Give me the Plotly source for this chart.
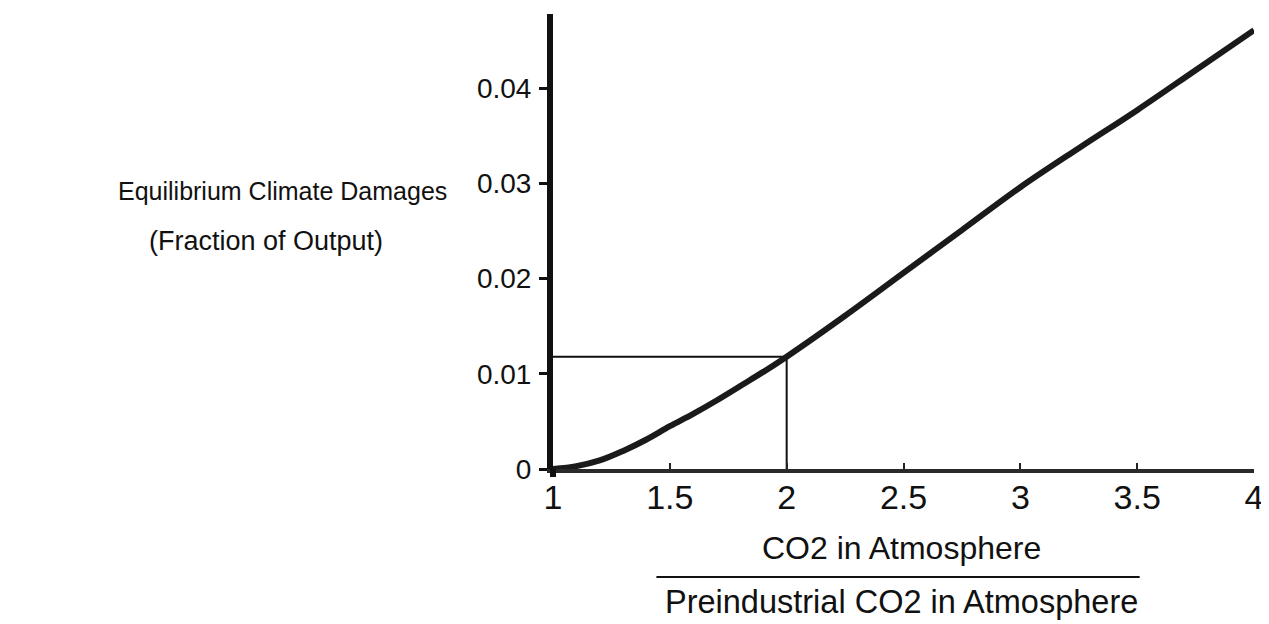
import plotly.graph_objects as go

# Data
co2_ratio = [1.0, 1.1, 1.2, 1.3, 1.4, 1.5, 1.6, 1.7, 1.8, 1.9, 2.0,
             2.25, 2.5, 2.75, 3.0, 3.25, 3.5, 3.75, 4.0]
damages = [0.0, 0.0003, 0.0009, 0.0019, 0.0031, 0.0045, 0.0058, 0.0072,
           0.0087, 0.0102, 0.0118, 0.0161, 0.0206, 0.0251, 0.0296,
           0.0337, 0.0377, 0.0419, 0.0461]

ref_x = 2.0
ref_y = 0.0118

x_ticks = [1, 1.5, 2, 2.5, 3, 3.5, 4]
x_ticktext = ["1", "1.5", "2", "2.5", "3", "3.5", "4"]
y_ticks = [0, 0.01, 0.02, 0.03, 0.04]
y_ticktext = ["0", "0.01", "0.02", "0.03", "0.04"]

FONT = "Liberation Sans, Arial, sans-serif"

fig = go.Figure()

# reference lines
fig.add_trace(go.Scatter(x=[co2_ratio[0], ref_x, ref_x], y=[ref_y, ref_y, 0],
                         mode="lines", line=dict(color="#111", width=2),
                         hoverinfo="skip", showlegend=False))

fig.add_trace(go.Scatter(x=co2_ratio, y=damages, mode="lines",
                         line=dict(color="#1a1a1a", width=6, shape="spline"),
                         showlegend=False))

fig.update_xaxes(range=[1, 4], tickvals=x_ticks, ticktext=x_ticktext,
                 showline=True, linecolor="#2a2a2a", linewidth=4,
                 ticks="inside", ticklen=6, tickwidth=2, tickcolor="#222",
                 showgrid=False, zeroline=False, ticklabelstandoff=-5,
                 tickfont=dict(family=FONT, size=34, color="#111"))
fig.update_yaxes(range=[0, 0.0478], tickvals=y_ticks, ticktext=y_ticktext,
                 showline=True, linecolor="#111", linewidth=6,
                 ticks="outside", ticklen=8, tickwidth=3, tickcolor="#111",
                 showgrid=False, zeroline=False, ticklabelstandoff=2,
                 tickfont=dict(family=FONT, size=28, color="#111"))

# page body has an 8px margin: screenshot coord = figure coord + 8
OFF = 8
W, H = 1269 - OFF, 624 - OFF
X0, X1 = 553, 1258       # screenshot pixel of x=1 and x=4
Y0, Y1 = 469, 14         # screenshot pixel of y=0 and top of axis
L = X0 - OFF
R = (1269 - X1)
T = Y1 - OFF
B = 624 - Y0
pw = X1 - X0
ph = Y0 - Y1


def px(xp):
    return (xp - X0) / pw


def py(yp):
    return (Y0 - yp) / ph


annotations = [
    dict(text="CO2 in Atmosphere", x=px(903), y=py(548), size=32),
    dict(text="Preindustrial CO2 in Atmosphere", x=px(903), y=py(602),
         size=32.5),
    dict(text="Equilibrium Climate Damages", x=px(281), y=py(191), size=25),
    dict(text="(Fraction of Output)", x=px(264), y=py(241), size=27),
]
for a in annotations:
    fig.add_annotation(xref="paper", yref="paper", showarrow=False,
                       xanchor="center", yanchor="middle",
                       text=a["text"], x=a["x"], y=a["y"],
                       font=dict(family=FONT, size=a["size"], color="#111"))

# fraction bar under the x-axis title
fig.add_shape(type="line", xref="paper", yref="paper",
              x0=px(657), x1=px(1143), y0=py(577), y1=py(577),
              line=dict(color="#111", width=2))
# y axis line runs slightly below the x axis
fig.add_shape(type="line", xref="paper", yref="paper",
              x0=0, x1=0, y0=py(469), y1=py(477),
              line=dict(color="#111", width=6))

fig.update_layout(width=W, height=H, margin=dict(l=L, r=R, t=T, b=B),
                  plot_bgcolor="white", paper_bgcolor="white",
                  showlegend=False)

fig.write_html("out.html")
